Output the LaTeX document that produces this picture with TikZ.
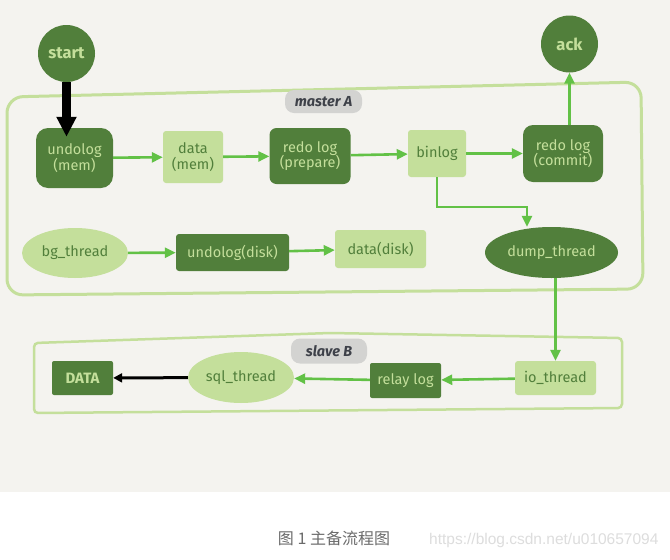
\documentclass[tikz,border=0pt]{standalone}
\usepackage{fontspec}
\setmainfont{Fira Sans}
\newfontfamily\cjkfont{Noto Sans CJK SC}
\newfontfamily\wmfont{Liberation Sans}
\usepackage{xcolor}
\usepackage{tikz}
\usetikzlibrary{shapes.geometric,arrows.meta,positioning}
\definecolor{flowdark}{HTML}{517F3B}
\definecolor{flowlight}{HTML}{C4DF9B}
\definecolor{flowarrow}{HTML}{62C146}
\definecolor{paper}{HTML}{F4F3EF}
\definecolor{tagfill}{HTML}{D3D3D1}
\definecolor{tagink}{HTML}{3E4149}
\definecolor{capgray}{HTML}{6B6B6B}
\definecolor{wmgray}{HTML}{DDDDDD}
\tikzset{
  mbox/.style={rectangle, rounded corners=7pt, fill=flowdark, text=flowlight, align=center, font=\fontsize{14.5}{15.5}\selectfont, inner sep=2pt},
  mboxlight/.style={mbox, rounded corners=3pt, fill=flowlight, text=flowdark},
  mell/.style={ellipse, fill=flowdark, text=flowlight, font=\fontsize{14.5}{16}\selectfont, inner sep=0pt},
  mellight/.style={mell, fill=flowlight, text=flowdark},
  mcirc/.style={circle, fill=flowdark, text=flowlight, minimum size=57pt, inner sep=0pt, font=\bfseries\fontsize{16.5}{18}\selectfont},
  mgroup/.style={draw=flowlight, line width=3pt},
  mtag/.style={rectangle, rounded corners=9pt, fill=tagfill, text=tagink, font=\bfseries\itshape\fontsize{14.5}{16}\selectfont, inner sep=0pt},
  marrow/.style={-{Triangle[length=11pt,width=10pt]}, line width=2.6pt, flowarrow},
  marrowblack/.style={-{Triangle[length=9pt,width=9pt]}, line width=3pt, black}
}

\begin{document}
\begin{tikzpicture}[x=1pt,y=-1pt]
\useasboundingbox (0,0) rectangle (670,560);
\fill[white] (0,0) rectangle (670,560);
\fill[paper] (0,0) rectangle (670,492);

% master A
\draw[mgroup, rounded corners=16pt] (7,295) -- (7,97) -- (641,82) -- (643,289) -- cycle;
\node[mtag, minimum width=77pt, minimum height=23pt] (mastertag) at (323.5,101.5) {master A};
\node[mcirc] (start) at (66.5,53.5) {start};
\node[mcirc] (ack) at (569.5,44) {ack};
\node[mbox, rounded corners=12pt, minimum width=77pt, minimum height=60pt] (undomem) at (74.5,158) {undolog\\(mem)};
\node[mboxlight, minimum width=60pt, minimum height=52pt] (datamem) at (193,157) {data\\(mem)};
\node[mbox, minimum width=81pt, minimum height=56pt] (redoprep) at (310,156) {redo log\\(prepare)};
\node[mboxlight, minimum width=58pt, minimum height=47pt] (binlog) at (437,153.5) {binlog};
\node[mbox, rounded corners=10pt, minimum width=80pt, minimum height=57pt] (redocommit) at (563,153.5) {redo log\\(commit)};
\node[mellight, minimum width=106pt, minimum height=50pt] (bgthread) at (75,253) {bg\_thread};
\node[mbox, rounded corners=3pt, minimum width=113pt, minimum height=37pt] (undodisk) at (232.5,252.5) {undolog(disk)};
\node[mboxlight, minimum width=91pt, minimum height=38pt] (datadisk) at (380.5,249) {data(disk)};
\node[mell, minimum width=133pt, minimum height=51pt] (dump) at (551.5,252.5) {dump\_thread};

% slave B
\draw[mgroup, line width=2.5pt, rounded corners=4pt] (34,413) -- (34,343) -- (330,333) -- (622,338) -- (622,408) -- cycle;
\node[mtag, minimum width=76pt, minimum height=25pt] (slavetag) at (329,351) {slave B};
\node[mbox, rounded corners=2pt, font=\bfseries\fontsize{15}{16}\selectfont, minimum width=61pt, minimum height=34pt] (data) at (82.5,378) {DATA};
\node[mellight, minimum width=106pt, minimum height=51pt] (sqlthread) at (241,377.5) {sql\_thread};
\node[mbox, rounded corners=2pt, minimum width=71pt, minimum height=35pt] (relay) at (405.5,380.5) {relay log};
\node[mboxlight, minimum width=81pt, minimum height=34pt] (iothread) at (555.5,378) {io\_thread};

% connectors
\draw[-{Triangle[length=20pt,width=19pt]}, line width=9pt, shorten >=-9pt] (start.south) -- (start.south |- undomem.north);
\draw[marrow] (undomem) -- (datamem);
\draw[marrow] (datamem) -- (redoprep);
\draw[marrow] (redoprep) -- (binlog);
\draw[marrow] (binlog) -- (redocommit);
\draw[marrow] (redocommit.north -| ack.south) -- (ack.south);
\coordinate (turn) at (527,207);
\draw[marrow] (binlog.south) |- (turn) -- (turn |- dump.north);
\draw[marrow] (bgthread) -- (undodisk);
\draw[marrow] (undodisk) -- (datadisk);
\draw[marrow] (dump.south -| iothread.north) -- (iothread.north);
\draw[marrow] (iothread) -- (relay);
\draw[marrow] (relay) -- (sqlthread);
\draw[marrowblack] (sqlthread) -- (data);

% caption
\node[font=\cjkfont\fontsize{16}{18}\selectfont, text=capgray] (caption) at (334,538) {图 1 主备流程图};
\node[anchor=east, font=\wmfont\fontsize{15.5}{17}\selectfont, text=wmgray] (mark) at (662,540) {https://blog.csdn.net/u010657094};
\end{tikzpicture}
\end{document}
